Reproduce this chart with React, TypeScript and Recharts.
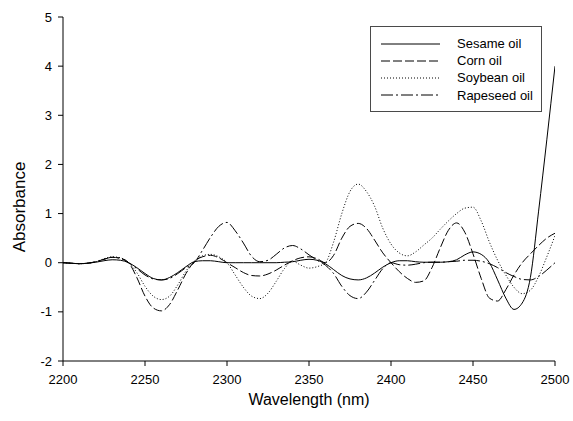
import { LineChart, Line, XAxis, YAxis, Legend } from "recharts";

// wavelength grid (nm)
const wavelength = [
  2200, 2205, 2210, 2215, 2220, 2225, 2230, 2235, 2240, 2245,
  2250, 2255, 2260, 2265, 2270, 2275, 2280, 2285, 2290, 2295,
  2300, 2305, 2310, 2315, 2320, 2325, 2330, 2335, 2340, 2345,
  2350, 2355, 2360, 2365, 2370, 2375, 2380, 2385, 2390, 2395,
  2400, 2405, 2410, 2415, 2420, 2425, 2430, 2435, 2440, 2445,
  2450, 2455, 2460, 2465, 2470, 2475, 2480, 2485, 2490, 2495,
  2500,
];

const sesame = [
  0, -0.01, -0.02, -0.01, 0.01, 0.04, 0.06, 0.05, 0, -0.1,
  -0.22, -0.32, -0.35, -0.3, -0.2, -0.08, 0.02, 0.04, 0.04, 0.02,
  0, 0, 0, 0, 0, 0, 0, 0.01, 0.02, 0.05,
  0.07, 0.05, -0.02, -0.14, -0.26, -0.33, -0.35, -0.31, -0.21, -0.09,
  0, 0.04, 0.04, 0.02, 0.01, 0.01, 0.01, 0.02, 0.06, 0.16,
  0.22, 0.17, 0, -0.35, -0.72, -0.95, -0.82, -0.3, 1.05, 2.5,
  4.0,
];

const corn = [
  0, -0.01, -0.02, -0.01, 0.02, 0.07, 0.11, 0.09, 0, -0.3,
  -0.68, -0.92, -0.98, -0.85, -0.55, -0.22, 0.02, 0.12, 0.15, 0.1,
  0, -0.1, -0.2, -0.26, -0.27, -0.23, -0.15, -0.05, 0.04, 0.1,
  0.12, 0.08, 0.0, 0.15, 0.5, 0.74, 0.8, 0.7, 0.46, 0.2,
  0, -0.18, -0.32, -0.4, -0.37, -0.1, 0.3, 0.66, 0.81, 0.62,
  0.18, -0.32, -0.72, -0.78, -0.55, -0.25, 0, 0.18, 0.35, 0.5,
  0.6,
];

const soybean = [
  0, -0.01, -0.02, -0.01, 0.02, 0.08, 0.12, 0.1, 0, -0.2,
  -0.48, -0.68, -0.75, -0.68, -0.45, -0.17, 0.03, 0.14, 0.17, 0.12,
  0, -0.25, -0.5, -0.68, -0.73, -0.62, -0.38, -0.12, 0.03, -0.05,
  -0.11, -0.08, 0, 0.42, 1.0, 1.45, 1.6, 1.45, 1.15, 0.7,
  0.38, 0.2, 0.14, 0.22, 0.36, 0.5, 0.68, 0.85, 1.0, 1.11,
  1.13, 0.85, 0.42, 0.05, -0.25, -0.5, -0.63, -0.56, -0.28, 0.12,
  0.55,
];

const rapeseed = [
  0, -0.01, -0.02, -0.01, 0.02, 0.07, 0.11, 0.09, 0, -0.12,
  -0.25, -0.33, -0.35, -0.32, -0.22, -0.1, 0, 0.25, 0.52, 0.74,
  0.82, 0.65, 0.4, 0.13, 0.02, 0.05, 0.17, 0.3, 0.35, 0.28,
  0.16, 0.05, -0.05, -0.22, -0.48, -0.67, -0.73, -0.6, -0.36, -0.12,
  0, -0.04, -0.05, -0.03, 0, 0.01, 0.01, 0.02, 0.03, 0.05,
  0.05, 0.03, -0.02, -0.1, -0.2, -0.28, -0.34, -0.35, -0.28, -0.15,
  0,
];

const xTicks = [2200, 2250, 2300, 2350, 2400, 2450, 2500];
const yTicks = [-2, -1, 0, 1, 2, 3, 4, 5];

const rows = wavelength.map((w, i) => ({
  w,
  sesame: sesame[i],
  corn: corn[i],
  soybean: soybean[i],
  rapeseed: rapeseed[i],
}));

const FONT = '"Liberation Sans", Arial, Helvetica, sans-serif';

const series = [
  { key: "sesame", name: "Sesame oil", dash: undefined as string | undefined },
  { key: "corn", name: "Corn oil", dash: "9 3" },
  { key: "soybean", name: "Soybean oil", dash: "1 2" },
  { key: "rapeseed", name: "Rapeseed oil", dash: "12 3 2 3" },
];

function LegendBox() {
  return (
    <div
      style={{
        boxSizing: "border-box",
        width: 172,
        height: 86,
        border: "1px solid #4a4a4a",
        paddingTop: 8,
        fontFamily: FONT,
        fontSize: 13,
        color: "#000",
        background: "#fff",
      }}
    >
      {series.map((s) => (
        <div key={s.key} style={{ display: "flex", alignItems: "center", height: 17.2 }}>
          <svg width={86} height={10} style={{ display: "block" }}>
            <line x1={10} y1={5} x2={69} y2={5} stroke="#000" strokeWidth={1} strokeDasharray={s.dash} />
          </svg>
          <span>{s.name}</span>
        </div>
      ))}
    </div>
  );
}

export default function App() {
  return (
    <div style={{ position: "absolute", left: 0, top: 0, width: 573, height: 421, background: "#fff" }}>
      <LineChart width={573} height={421} data={rows} margin={{ top: 17, right: 18, bottom: 0, left: 3 }}>
        <XAxis
          xAxisId="x"
          dataKey="w"
          type="number"
          domain={[2200, 2500]}
          ticks={xTicks}
          allowDataOverflow
          height={60}
          tickSize={5}
          tickMargin={9}
          stroke="#000"
          tick={{ fill: "#000", fontSize: 13, fontFamily: FONT }}
          label={{ value: "Wavelength (nm)", position: "insideBottom", offset: 16, fill: "#000", fontSize: 16, fontFamily: FONT }}
        />
        <XAxis xAxisId="top" orientation="top" dataKey="w" type="number" domain={[2200, 2500]} height={0} tick={false} tickLine={false} stroke="#808080" />
        <YAxis
          yAxisId="y"
          type="number"
          domain={[-2, 5]}
          ticks={yTicks}
          allowDataOverflow
          width={60}
          tickSize={5}
          tickMargin={6}
          stroke="#000"
          tick={{ fill: "#000", fontSize: 13, fontFamily: FONT }}
          label={({ viewBox }: any) => (
            <text
              x={19.5}
              y={207}
              transform="rotate(-90, 19.5, 207)"
              textAnchor="middle"
              dominantBaseline="central"
              fill="#000"
              fontSize={17}
              fontFamily={FONT}
            >
              Absorbance
            </text>
          )}
        />
        <YAxis yAxisId="right" orientation="right" type="number" domain={[-2, 5]} width={0} tick={false} tickLine={false} stroke="#808080" />
        <Legend
          layout="vertical"
          align="center"
          verticalAlign="middle"
          content={() => <LegendBox />}
          wrapperStyle={{ left: 370, top: 26, width: 172, height: 86, right: "auto", bottom: "auto" }}
        />
        {series.map((s) => (
          <Line
            key={s.key}
            xAxisId="x"
            yAxisId="y"
            type="monotone"
            dataKey={s.key}
            name={s.name}
            stroke="#000"
            strokeWidth={1}
            strokeDasharray={s.dash}
            dot={false}
            activeDot={false}
            isAnimationActive={false}
          />
        ))}
      </LineChart>
    </div>
  );
}
